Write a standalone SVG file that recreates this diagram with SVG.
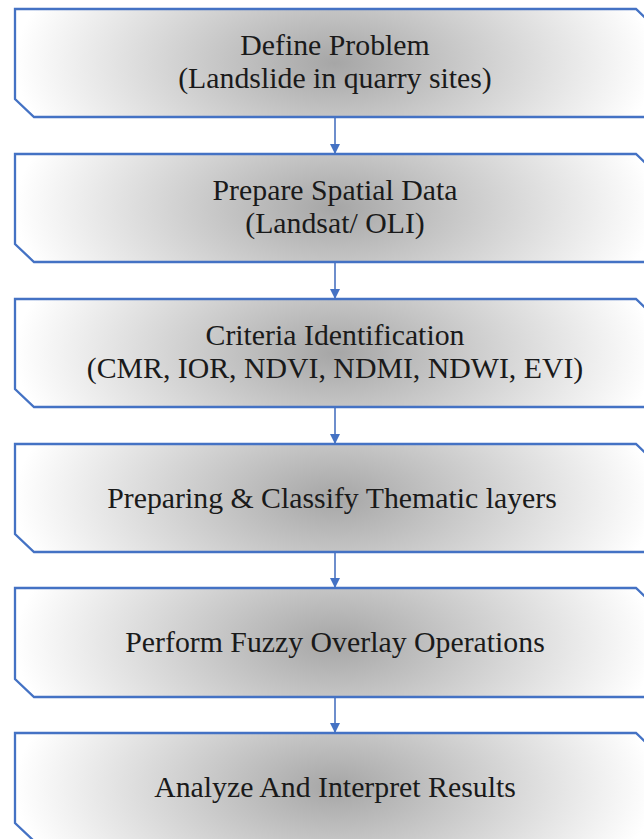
<svg xmlns="http://www.w3.org/2000/svg" width="644" height="839" viewBox="0 0 644 839">
  <style>
    .box { stroke: #4472C4; stroke-width: 2.3; fill: url(#shade); stroke-linejoin: miter; }
    .label { font-family: "Liberation Serif", "Times New Roman", serif; font-size: 29.8px; fill: #1a1a1a; text-anchor: middle; }
    .link { stroke: #4a72c0; stroke-width: 1.6; fill: none; marker-end: url(#head); }
  </style>
  <defs>
    <radialGradient id="shade" cx="0.5" cy="0.5" r="0.5" gradientTransform="translate(0.5,0.5) scale(1,2.9) translate(-0.5,-0.5)">
      <stop offset="0" stop-color="#a6a6a6"/>
      <stop offset="1" stop-color="#ffffff"/>
    </radialGradient>
    <marker id="head" markerWidth="10" markerHeight="10" refX="9" refY="5" orient="auto" markerUnits="userSpaceOnUse">
      <path d="M0,0 L10,5 L0,10 Z" fill="#4472C4"/>
    </marker>
  </defs>

  <rect width="644" height="839" fill="#ffffff"/>

  <g id="connectors">
    <line class="link" x1="335" y1="118" x2="335" y2="153"/>
    <line class="link" x1="335" y1="263" x2="335" y2="298"/>
    <line class="link" x1="335" y1="408" x2="335" y2="443"/>
    <line class="link" x1="335" y1="553" x2="335" y2="587"/>
    <line class="link" x1="335" y1="698" x2="335" y2="732"/>
  </g>

  <g id="define-problem">
    <path class="box" d="M15,9 H636 L655,27 V117 H34 L15,99 Z"/>
    <text class="label" x="335" y="55">Define Problem</text>
    <text class="label" x="335" y="88">(Landslide in quarry sites)</text>
  </g>

  <g id="prepare-spatial-data">
    <path class="box" d="M15,154 H636 L655,172 V262 H34 L15,244 Z"/>
    <text class="label" x="335" y="200">Prepare Spatial Data</text>
    <text class="label" x="335" y="233">(Landsat/ OLI)</text>
  </g>

  <g id="criteria-identification">
    <path class="box" d="M15,299 H636 L655,317 V407 H34 L15,389 Z"/>
    <text class="label" x="335" y="345">Criteria Identification</text>
    <text class="label" x="335" y="378">(CMR, IOR, NDVI, NDMI, NDWI, EVI)</text>
  </g>

  <g id="thematic-layers">
    <path class="box" d="M15,444 H636 L655,462 V552 H34 L15,534 Z"/>
    <text class="label" x="332" y="508">Preparing &amp; Classify Thematic layers</text>
  </g>

  <g id="fuzzy-overlay">
    <path class="box" d="M15,588 H636 L655,606 V697 H34 L15,679 Z"/>
    <text class="label" x="335" y="652">Perform Fuzzy Overlay Operations</text>
  </g>

  <g id="analyze-results">
    <path class="box" d="M15,733 H636 L655,751 V841 H34 L15,823 Z"/>
    <text class="label" x="335" y="797">Analyze And Interpret Results</text>
  </g>
</svg>
